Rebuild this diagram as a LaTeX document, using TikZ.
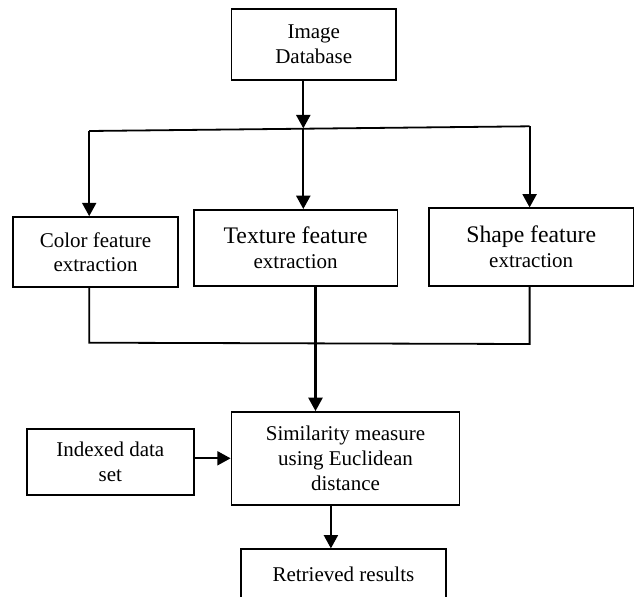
\documentclass[tikz,border=0pt]{standalone}
\usepackage{fontspec}
\setmainfont{Liberation Serif}
\usetikzlibrary{arrows.meta}

\tikzset{every picture/.style={line width=0.75pt}}
\tikzset{
	blk/.style={draw, rectangle, line width=1.35pt, inner sep=0.75pt, align=center, font=\fontsize{15.75}{18.4}\selectfont},
	flow/.style={line width=1.6pt, -{Triangle[length=10pt,width=10.5pt]}},
	link/.style={line width=1.35pt}
}

\begin{document}
\begin{tikzpicture}[x=0.75pt,y=0.75pt,yscale=-1,xscale=1]
	\useasboundingbox (0,0) rectangle (635,596); %set diagram size 635 x 596
	
	%Shape: Rectangle [id:dp4418290371]
	\node [blk, minimum width=123.4pt, minimum height=53pt] (imgdb) at (313.75,44.3) {Image\\Database};
	%Shape: Rectangle [id:dp9023317745]
	\node [blk, minimum width=123.2pt, minimum height=52.7pt] (colorfe) at (95.5,252.2) {Color feature\\extraction};
	%Shape: Rectangle [id:dp1736604482]
	\node [blk, minimum width=152.7pt, minimum height=56.8pt] (texturefe) at (295.6,247.8) {{\fontsize{17.8}{18.8}\selectfont Texture feature}\\extraction};
	%Shape: Rectangle [id:dp6650127391]
	\node [blk, minimum width=153.3pt, minimum height=58pt] (shapefe) at (531.2,247) {{\fontsize{17.8}{18.8}\selectfont Shape feature}\\extraction};
	%Shape: Rectangle [id:dp2285716093]
	\node [blk, minimum width=171pt, minimum height=69.5pt] (simm) at (345.5,458.3) {Similarity measure\\using Euclidean\\distance};
	%Shape: Rectangle [id:dp8172403356]
	\node [blk, minimum width=125.3pt, minimum height=49pt] (idxset) at (110.3,462) {Indexed data\\set};
	%Shape: Rectangle [id:dp5530918264]
	\node [blk, minimum width=153.8pt, minimum height=37.5pt] (retres) at (343.4,574.3) {Retrieved results};
	
	%Straight Lines [id:da3012457781]
	\coordinate (split) at (303.3,128.3);
	\coordinate (splitL) at (89.2,131);
	\coordinate (splitR) at (529.6,126.3);
	\draw [flow] (imgdb.south -| split) -- (split);
	\draw [link] (splitL) -- (splitR);
	\draw [flow] (splitL) -- (splitL |- colorfe.north);
	\draw [flow] (split) -- (split |- texturefe.north);
	\draw [flow] (splitR) -- (splitR |- shapefe.north);
	
	%Straight Lines [id:da7719043526]
	\coordinate (joinL) at (89.2,342.7);
	\coordinate (joinR) at (529.6,344);
	\coordinate (join) at (315.5,343.3);
	\draw [link] (colorfe.south -| joinL) -- (joinL) -- (joinR) -- (shapefe.south -| joinR);
	\draw [flow] (texturefe.south -| join) -- (simm.north -| join);
	
	%Straight Lines [id:da2460915873]
	\draw [flow] (idxset.east |- simm.west) -- (simm.west);
	\coordinate (out) at (330.9,505);
	\draw [flow] (simm.south -| out) -- (retres.north -| out);
	
\end{tikzpicture}
\end{document}
